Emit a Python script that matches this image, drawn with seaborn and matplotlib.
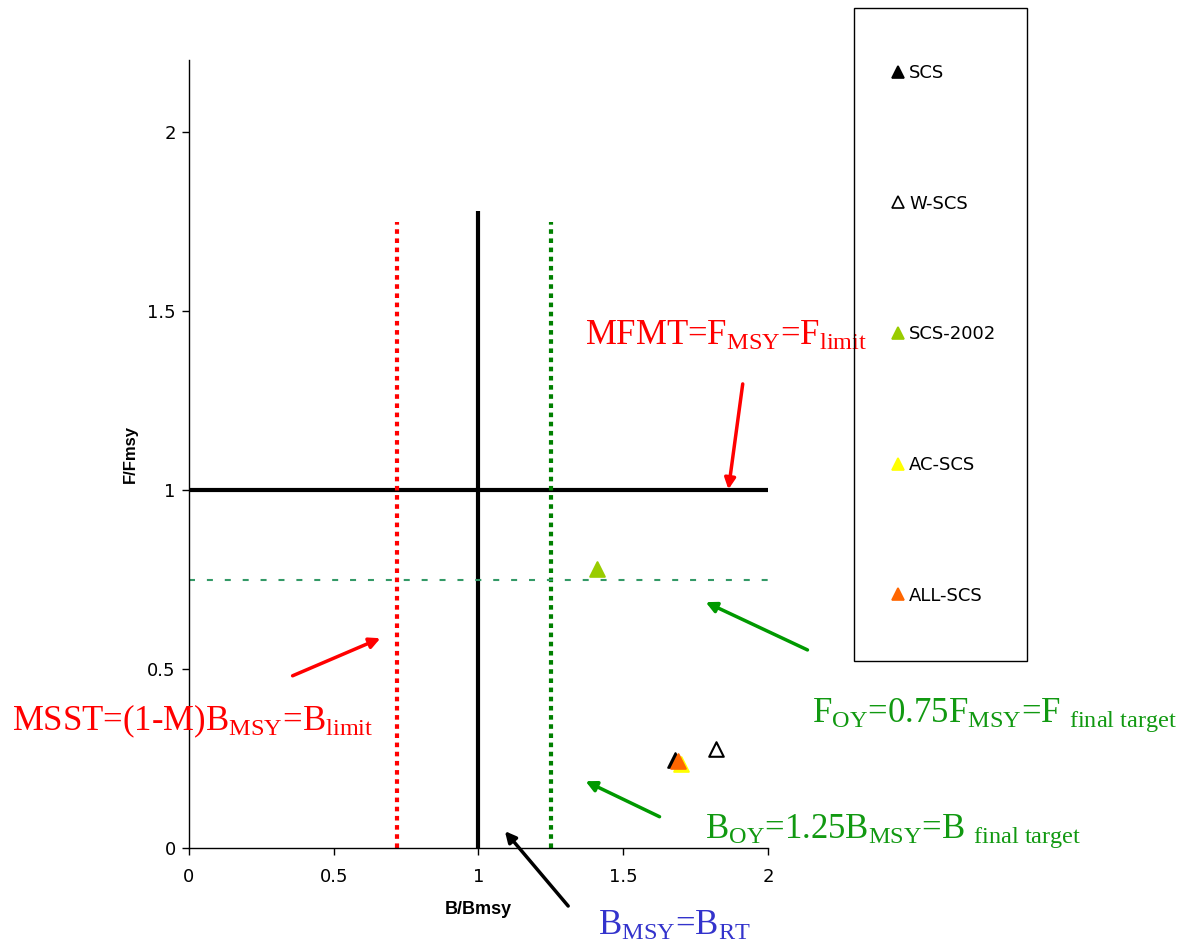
import matplotlib
matplotlib.use("Agg")
import matplotlib.pyplot as plt
from matplotlib.lines import Line2D
from matplotlib.patches import Rectangle
import seaborn as sns
import pandas as pd

# ---- data ----
series = ["SCS", "W-SCS", "SCS-2002", "AC-SCS", "ALL-SCS"]
b_ratio = [1.68, 1.82, 1.41, 1.70, 1.69]
f_ratio = [0.245, 0.277, 0.778, 0.235, 0.242]
face_colors = ["#000000", "#ffffff", "#99cc00", "#ffff00", "#ff6600"]
edge_colors = ["#000000", "#000000", "#99cc00", "#ffff00", "#ff6600"]
draw_order = ["W-SCS", "SCS-2002", "AC-SCS", "SCS", "ALL-SCS"]

x_ticks = [0, 0.5, 1, 1.5, 2]
y_ticks = [0, 0.5, 1, 1.5, 2]
x_tick_labels = ["0", "0.5", "1", "1.5", "2"]
y_tick_labels = ["0", "0.5", "1", "1.5", "2"]

# reference lines
msst_x = 0.72
msst_top = 1.75
bmsy_x = 1.0
bmsy_top = 1.78
boy_x = 1.25
boy_top = 1.75
fmsy_y = 1.0
foy_y = 0.75

df = pd.DataFrame({"series": series, "B": b_ratio, "F": f_ratio,
                   "face": face_colors, "edge": edge_colors})

sns.set_theme(style="white")
plt.rcParams["font.family"] = ["Liberation Sans", "DejaVu Sans"]
plt.rcParams["text.color"] = "black"
plt.rcParams["axes.labelcolor"] = "black"
plt.rcParams["xtick.color"] = "black"
plt.rcParams["ytick.color"] = "black"
plt.rcParams["mathtext.fontset"] = "custom"
plt.rcParams["mathtext.rm"] = "Liberation Serif"
plt.rcParams["mathtext.it"] = "Liberation Serif:italic"
plt.rcParams["mathtext.bf"] = "Liberation Serif:bold"

fig = plt.figure(figsize=(11.88, 9.48), dpi=100)
ax = fig.add_axes([189/1188, 1-848/948, (768-189)/1188, (848-60.4)/948])

# reference lines
ax.plot([bmsy_x, bmsy_x], [0, bmsy_top], color="black", lw=3, solid_capstyle="butt", zorder=2)
ax.plot([0, 2], [fmsy_y, fmsy_y], color="black", lw=3, solid_capstyle="butt", zorder=2)
ax.plot([msst_x, msst_x], [0, msst_top], color="#ff0000", lw=3, linestyle=(0, (1.1, 1.1)), zorder=2)
ax.plot([boy_x, boy_x], [0, boy_top], color="#008000", lw=3, linestyle=(0, (1.1, 1.1)), zorder=2)
ax.plot([0, 2], [foy_y, foy_y], color="#339966", lw=1.5, linestyle=(0, (2.88, 5.71)), zorder=2)

# points
for name in draw_order:
    sub = df[df["series"] == name]
    sns.scatterplot(data=sub, x="B", y="F", marker="^", s=110,
                    color=sub["face"].iloc[0], edgecolor=sub["edge"].iloc[0],
                    linewidth=1.5, ax=ax, zorder=3, legend=False)

ax.set_xlim(0, 2)
ax.set_ylim(0, 2.2)
ax.set_xticks(x_ticks)
ax.set_xticklabels(x_tick_labels, fontfamily="DejaVu Sans")
ax.set_yticks(y_ticks)
ax.set_yticklabels(y_tick_labels, fontfamily="DejaVu Sans")
ax.tick_params(axis="both", labelsize=13, direction="out", length=5, width=1,
               colors="black", bottom=True, left=True, pad=4.5)
ax.tick_params(axis="x", pad=9.5)
for s in ["top", "right"]:
    ax.spines[s].set_visible(False)
for s in ["left", "bottom"]:
    ax.spines[s].set_color("black")
    ax.spines[s].set_linewidth(1)
ax.set_xlabel("B/Bmsy", fontsize=13, fontweight="bold", labelpad=11, color="black")
ax.set_ylabel("F/Fmsy", fontsize=12, fontweight="bold", labelpad=6.5, color="black")

# annotations
arrow_kw = dict(arrowstyle="-|>", lw=2.5, mutation_scale=16)
ax.annotate("", xy=(0.67, 0.589), xytext=(0.349, 0.478),
            arrowprops=dict(color="#ff0000", **arrow_kw), annotation_clip=False)
ax.annotate("", xy=(1.862, 0.994), xytext=(1.914, 1.304),
            arrowprops=dict(color="#ff0000", **arrow_kw), annotation_clip=False)
ax.annotate("", xy=(1.776, 0.690), xytext=(2.145, 0.550),
            arrowprops=dict(color="#009900", **arrow_kw), annotation_clip=False)
ax.annotate("", xy=(1.361, 0.19), xytext=(1.634, 0.084),
            arrowprops=dict(color="#009900", **arrow_kw), annotation_clip=False)
ax.annotate("", xy=(1.085, 0.053), xytext=(1.316, -0.168),
            arrowprops=dict(color="black", **arrow_kw), annotation_clip=False)

tkw = dict(fontsize=25, family="Liberation Serif", ha="left", va="baseline", clip_on=False)
ax.text(1.368, 1.405, r"MFMT=F$_{\mathrm{MSY}}$=F$_{\mathrm{limit}}$", color="#ff0000", **tkw)
ax.text(-0.611, 0.33, r"MSST=(1-M)B$_{\mathrm{MSY}}$=B$_{\mathrm{limit}}$", color="#ff0000", **tkw)
ax.text(2.152, 0.352, r"F$_{\mathrm{OY}}$=0.75F$_{\mathrm{MSY}}$=F $_{\mathrm{final\ target}}$", color="#119911", **tkw)
ax.text(1.782, 0.028, r"B$_{\mathrm{OY}}$=1.25B$_{\mathrm{MSY}}$=B $_{\mathrm{final\ target}}$", color="#119911", **tkw)
ax.text(1.413, -0.243, r"B$_{\mathrm{MSY}}$=B$_{\mathrm{RT}}$", color="#3333cc", **tkw)

# legend
handles = [Line2D([0], [0], marker="^", linestyle="none", markersize=9,
                  markerfacecolor=fc, markeredgecolor=ec, markeredgewidth=1.2)
           for fc, ec in zip(face_colors, edge_colors)]
fig.patches.append(Rectangle((854/1188, 1-661/948), 173/1188, 653/948,
                             transform=fig.transFigure, fill=False,
                             edgecolor="black", lw=1))
fig.legend(handles, series, loc="upper left", bbox_to_anchor=(892/1188, 1-64/948),
           frameon=False, prop={"family": "DejaVu Sans", "size": 13},
           labelcolor="black",
           handlelength=0.7, handletextpad=0.25,
           labelspacing=6.24, borderpad=0, borderaxespad=0)

fig.savefig("out.png", dpi=100)
